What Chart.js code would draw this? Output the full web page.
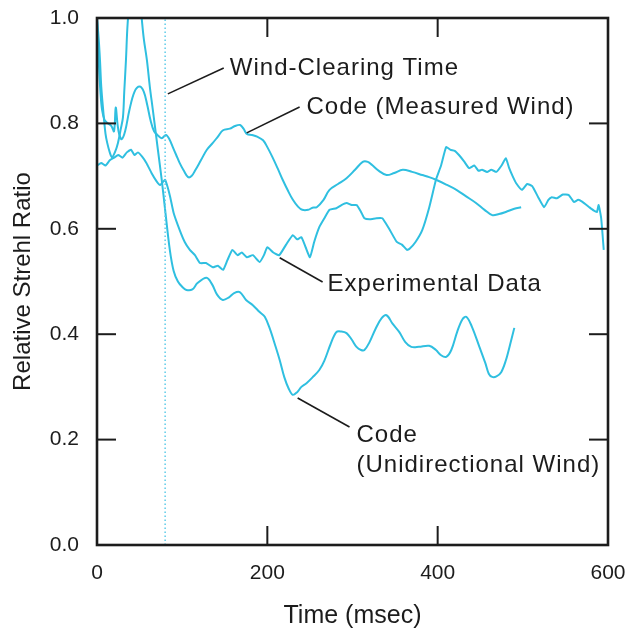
<!DOCTYPE html>
<html><head><meta charset="utf-8">
<script src="https://cdn.jsdelivr.net/npm/chart.js@4/dist/chart.umd.min.js"></script>
<style>html,body{margin:0;padding:0;background:#fff;}canvas{display:block;}</style>
</head><body>
<canvas id="c" width="631" height="629"></canvas>
<script>
// ---------- data ----------
const xTickValues=[0,200,400,600];
const yTickValues=[0,0.2,0.4,0.6,0.8,1.0];
const clearingTime=[80];

const expT=[0,5,10,15,20,25,30,35,40,44,48,53,58,64,70,74,78,80,83,86,90,97,103,109,115,121,128,136,142,148,153,159,165,170,176,183,191,196,200,207,214,222,230,235,240,245,250,255,261,267,273,281,287,293,299,305,310,314,320,328,335,343,352,358,364,367,374,382,390,398,404,410,415,420,425,431,437,443,448,452,458,463,469,475,480,484,488,492,499,505,511,518,525,530,534,540,547,554,560,565,570,578,583,587,589,592,595];
const expV=[0.72,0.725,0.72,0.73,0.735,0.74,0.735,0.745,0.75,0.74,0.745,0.737,0.725,0.706,0.69,0.683,0.69,0.693,0.679,0.66,0.63,0.598,0.575,0.56,0.55,0.535,0.535,0.527,0.53,0.522,0.54,0.56,0.55,0.555,0.546,0.55,0.537,0.55,0.565,0.555,0.55,0.57,0.588,0.58,0.584,0.565,0.546,0.575,0.603,0.62,0.636,0.639,0.645,0.649,0.645,0.645,0.632,0.62,0.618,0.62,0.62,0.6,0.575,0.57,0.56,0.562,0.575,0.598,0.64,0.693,0.72,0.755,0.75,0.748,0.74,0.728,0.715,0.72,0.71,0.712,0.708,0.712,0.708,0.72,0.734,0.715,0.70,0.687,0.674,0.685,0.681,0.66,0.641,0.655,0.66,0.658,0.665,0.664,0.651,0.655,0.651,0.641,0.635,0.632,0.645,0.62,0.56];

const measT=[0,1,2,4,6,9,13,17,20,22,24,26,29,33,38,44,50,55,59,63,67,71,76,81,85,89,93,97,102,107,111,115,122,129,136,142,148,156,162,168,172,176,182,188,195,200,206,212,218,224,230,236,241,248,253,258,266,273,283,293,303,312,318,323,331,340,349,359,370,382,390,398,410,422,433,445,455,464,472,480,490,498];
const measV=[1.0,0.96,0.92,0.86,0.825,0.806,0.80,0.795,0.785,0.83,0.80,0.78,0.77,0.785,0.825,0.86,0.87,0.86,0.835,0.805,0.785,0.778,0.772,0.778,0.77,0.755,0.74,0.725,0.71,0.698,0.70,0.71,0.73,0.75,0.763,0.775,0.787,0.79,0.795,0.797,0.79,0.78,0.778,0.775,0.768,0.755,0.736,0.715,0.693,0.673,0.655,0.642,0.636,0.636,0.64,0.641,0.655,0.674,0.685,0.696,0.712,0.727,0.727,0.721,0.71,0.702,0.706,0.712,0.708,0.702,0.698,0.693,0.684,0.674,0.662,0.649,0.636,0.626,0.628,0.632,0.638,0.641];

const uniT=[0,2,3.5,5,7,10,12,15,17.6,21,24.6,28,30.5,32,34,36,40,45,49,52.7,55,58.6,62,65.6,71.5,76,80,85.5,90,95,100,105,112,118,128.6,135,141,147.7,155,161,167.6,175,183,191,197,203,209,214.5,220,225,229.8,235,240,246,253,261,267,274,281,287,293,299,304.7,310,314,320,327,334,340,347,355,362,369,378,390,398,404,410,416,423,429,433.6,440,449,456,460,464,469,474.6,480,485,490];
const uniV=[1.0,0.96,0.92,0.87,0.83,0.78,0.763,0.745,0.736,0.745,0.763,0.79,0.812,0.86,0.92,0.99,1.06,1.09,1.06,0.996,0.96,0.92,0.87,0.825,0.75,0.693,0.636,0.56,0.52,0.50,0.49,0.484,0.485,0.497,0.507,0.495,0.475,0.465,0.47,0.478,0.48,0.465,0.455,0.442,0.433,0.41,0.38,0.351,0.318,0.297,0.285,0.29,0.30,0.307,0.318,0.332,0.35,0.38,0.404,0.405,0.402,0.39,0.376,0.37,0.37,0.385,0.41,0.43,0.436,0.42,0.404,0.385,0.376,0.376,0.378,0.37,0.36,0.357,0.37,0.405,0.428,0.433,0.415,0.376,0.345,0.325,0.319,0.32,0.328,0.35,0.38,0.412];

// annotation texts and anchors (data units)
const noteText=[["Wind-Clearing Time"],["Code (Measured Wind)"],["Experimental Data"],["Code","(Unidirectional Wind)"]];
const noteAt=[[156,0.892],[246,0.818],[270.7,0.482],[304.7,0.195]];
const leaderFrom=[[83.2,0.856],[175.8,0.782],[214.5,0.545],[235.6,0.279]];
const leaderTo=[[148.8,0.905],[237.9,0.831],[264.9,0.499],[296.5,0.224]];

// ---------- chart ----------
const pts=(t,v)=>t.map((x,i)=>({x:x,y:v[i]}));
const CY='#2fbfe0';
const INK='#1c1c1c';
const FONT='"Liberation Sans", Arial, sans-serif';

const framePlugin={
  id:'frame',
  afterDatasetsDraw(chart){
    const {ctx,chartArea:a,scales:{x,y}}=chart;
    const TL=19;
    ctx.save();
    ctx.strokeStyle=INK;
    const seg=(x1,y1,x2,y2)=>{ctx.beginPath();ctx.moveTo(x1,y1);ctx.lineTo(x2,y2);ctx.stroke();};
    ctx.lineWidth=2;
    yTickValues.slice(1,-1).forEach(v=>{const py=y.getPixelForValue(v);seg(a.left,py,a.left+TL,py);seg(a.right-TL,py,a.right,py);});
    xTickValues.slice(1,-1).forEach(v=>{const px=x.getPixelForValue(v);seg(px,a.bottom,px,a.bottom-TL);seg(px,a.top,px,a.top+TL);});
    ctx.lineWidth=2.6;
    ctx.strokeRect(a.left,a.top,a.right-a.left,a.bottom-a.top);
    // annotations
    ctx.lineWidth=1.6;
    leaderFrom.forEach((f,i)=>{const t=leaderTo[i];seg(x.getPixelForValue(f[0]),y.getPixelForValue(f[1]),x.getPixelForValue(t[0]),y.getPixelForValue(t[1]));});
    ctx.fillStyle=INK;
    ctx.font='24px '+FONT;
    if('letterSpacing' in ctx) ctx.letterSpacing='1px';
    ctx.textAlign='left';ctx.textBaseline='alphabetic';
    noteText.forEach((lines,i)=>{
      const px=x.getPixelForValue(noteAt[i][0]),py=y.getPixelForValue(noteAt[i][1]);
      lines.forEach((s,j)=>ctx.fillText(s,px,py+j*30));
    });
    ctx.restore();
  }
};

new Chart(document.getElementById('c'),{
  type:'scatter',
  data:{datasets:[
    {label:'Wind-Clearing Time',data:[{x:clearingTime[0],y:0},{x:clearingTime[0],y:1}],borderColor:'#5ecbe8',borderWidth:1.5,borderDash:[1.5,2.5],showLine:true,pointRadius:0,clip:0},
    {label:'Code (Measured Wind)',data:pts(measT,measV),borderColor:CY,borderWidth:2,showLine:true,pointRadius:0,tension:0.35,clip:0},
    {label:'Code (Unidirectional Wind)',data:pts(uniT,uniV),borderColor:CY,borderWidth:2,showLine:true,pointRadius:0,tension:0.35,clip:0},
    {label:'Experimental Data',data:pts(expT,expV),borderColor:CY,borderWidth:2,showLine:true,pointRadius:0,tension:0.15,clip:0}
  ]},
  options:{
    responsive:false,animation:false,devicePixelRatio:1,
    layout:{padding:{left:0,right:23,top:18,bottom:0}},
    plugins:{legend:{display:false},tooltip:{enabled:false}},
    scales:{
      x:{type:'linear',min:0,max:600,
        afterBuildTicks:s=>{s.ticks=xTickValues.map(v=>({value:v}));},
        afterFit:s=>{s.height=84;s.paddingLeft=0;s.paddingRight=0;},
        grid:{display:false,drawTicks:false},border:{display:false},
        ticks:{padding:16,color:INK,font:{family:FONT,size:21},callback:v=>String(v),maxRotation:0},
        title:{display:true,text:'Time (msec)',color:INK,font:{family:FONT,size:25,lineHeight:1},padding:{top:0,bottom:0}}},
      y:{type:'linear',min:0,max:1,
        afterBuildTicks:s=>{s.ticks=yTickValues.map(v=>({value:v}));},
        afterFit:s=>{s.width=97;s.paddingTop=0;s.paddingBottom=0;},
        grid:{display:false,drawTicks:false},border:{display:false},
        ticks:{padding:18,color:INK,font:{family:FONT,size:21},callback:v=>Number(v).toFixed(1)},
        title:{display:true,text:'Relative Strehl Ratio',color:INK,font:{family:FONT,size:24,lineHeight:1},padding:{top:11,bottom:0}}}
    }
  },
  plugins:[framePlugin]
});
</script>
</body></html>
